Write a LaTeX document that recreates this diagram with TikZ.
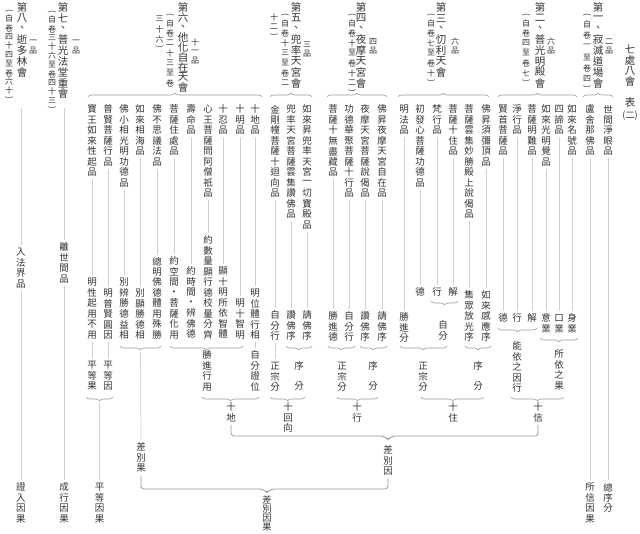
\documentclass[tikz,border=0pt]{standalone}
\usepackage{fontspec}
\usepackage{graphicx}
\newfontfamily\cjk{Noto Sans CJK TC}
\usetikzlibrary{decorations.pathreplacing,calc}
\definecolor{txt}{HTML}{333333}
\definecolor{lin}{HTML}{CFCFCF}
\definecolor{brc}{HTML}{9A9A9A}
\makeatletter
\newdimen\vpitch \vpitch=10.5pt
\newcommand\setpitch[1]{\vpitch#1\relax}
\newcommand\lp{\rotatebox[origin=c]{-90}{(}}
\newcommand\rp{\rotatebox[origin=c]{-90}{)}}
\def\lptok{\lp}\def\rptok{\rp}
\newcommand\vt[1]{\vbox{\offinterlineskip\@tfor\vch:=#1\do{%
 \ifx\vch\lptok\vbox to .6\vpitch{\vss\hbox to 1.1em{\hss\vch\hss}\vss}%
 \else\ifx\vch\rptok\vbox to .6\vpitch{\vss\hbox to 1.1em{\hss\vch\hss}\vss}%
 \else\vbox to \vpitch{\vss\hbox to 1.1em{\hss\vch\hss}\vss}\fi\fi}}}
\makeatother
\tikzset{
 base/.style={inner sep=0pt, outer sep=0pt, text=txt, anchor=north},
 item/.style={base, font=\fontsize{9.5}{10}\selectfont\cjk\setpitch{10.5pt}},
 head/.style={base, font=\fontsize{10.5}{11}\selectfont\cjk\setpitch{10.8pt}},
 note/.style={base, font=\fontsize{8}{9}\selectfont\cjk\setpitch{10pt}},
 notet/.style={base, font=\fontsize{8}{9}\selectfont\cjk\setpitch{9pt}},
 notew/.style={base, font=\fontsize{8}{9}\selectfont\cjk\setpitch{11pt}},
 pin/.style={base, font=\fontsize{8}{9}\selectfont\cjk\setpitch{9.2pt}},
 xufen/.style={base, font=\fontsize{9.5}{10}\selectfont\cjk\setpitch{10pt}},
 bottomtxt/.style={base, font=\fontsize{9.2}{10}\selectfont\cjk\setpitch{9.3pt}},
 conn/.style={draw=lin, line width=0.7pt, shorten <=2pt, shorten >=2pt},
 br/.style={draw=brc, line width=0.6pt, decorate, decoration={brace, amplitude=4pt}},
 bigbr/.style={draw=brc, line width=0.8pt, rounded corners=3pt},
}
\begin{document}
\begin{tikzpicture}[x=1pt,y=1pt]
\useasboundingbox (0,0) rectangle (640,-534);
\fill[white] (0,0) rectangle (640,-534);
% title
\node[head] (title) at (630,-44) {\vt{七處八會}};
\node[head] (biao) at (630,-97) {\vt{表}};
\node[base, font=\fontsize{9}{10}\selectfont\cjk] (er) at (630,-111) {(二)};
% ---------- 1
\node[head] (h1) at (598,-2) {\vt{第一、寂滅道場會}};
\node[pin] (p1) at (609,-37) {\vt{二品}};
\node[notew] (n1) at (587,-12) {\vt{\lp 自卷一至卷四\rp}};
\draw[br] (583,-97) -- (613,-97);
\node[item] (a1) at (608,-104) {\vt{世間淨眼品}};
\node[item] (a2) at (590,-104) {\vt{盧舍那佛品}};
\node[item] (zxf) at (608,-482) {\vt{總序分}};
\node[item] (sxyg) at (590,-482) {\vt{所信因果}};
\draw[conn] (a1.south) -- (zxf.north);
\draw[conn] (a2.south) -- (sxyg.north);
% ---------- 2
\node[head] (h2) at (540,-2) {\vt{第二、普光明殿會}};
\node[pin] (p2) at (551,-37) {\vt{六品}};
\node[note] (n2) at (526,-12) {\vt{\lp 自卷四至卷七\rp}};
\draw[br] (498,-97) -- (577,-97);
\node[item] (b1) at (572,-104) {\vt{如來名號品}};
\node[item] (b2) at (559,-104) {\vt{四諦品}};
\node[item] (b3) at (546,-104) {\vt{如來光明覺品}};
\node[item] (b4) at (532,-104) {\vt{菩薩明難品}};
\node[item] (b5) at (517,-104) {\vt{淨行品}};
\node[item] (b6) at (503,-104) {\vt{賢首菩薩品}};
\node[item] (c1) at (572,-313) {\vt{身業}};
\node[item] (c2) at (559,-313) {\vt{口業}};
\node[item] (c3) at (546,-313) {\vt{意業}};
\node[item] (c4) at (532,-313) {\vt{解}};
\node[item] (c5) at (517,-313) {\vt{行}};
\node[item] (c6) at (503,-313) {\vt{德}};
\foreach \i in {1,...,6}{\draw[conn] (b\i.south) -- (c\i.north);}
\draw[br] (537,-328) -- (498,-328);
\node[item] (nyzyx) at (517,-341) {\vt{能依之因行}};
\draw[br] (578,-338) -- (540,-338);
\node[item] (syzg) at (559,-349) {\vt{所依之果}};
\draw[br] (564,-397) -- (511,-397);
\node[item] (shixin) at (538,-402) {\vt{十信}};
% ---------- 3
\node[head] (h3) at (441,-2) {\vt{第三、忉利天會}};
\node[pin] (p3) at (455,-37) {\vt{六品}};
\node[note] (n3) at (431,-12) {\vt{\lp 自卷七至卷十\rp}};
\draw[br] (398,-97) -- (489,-97);
\node[item] (d1) at (486,-104) {\vt{佛昇須彌頂品}};
\node[item] (d2) at (469,-104) {\vt{菩薩雲集妙勝殿上說偈品}};
\node[item] (d3) at (453,-104) {\vt{菩薩十住品}};
\node[item] (d4) at (437,-104) {\vt{梵行品}};
\node[item] (d5) at (420,-104) {\vt{初發心菩薩功德品}};
\node[item] (d6) at (404,-104) {\vt{明法品}};
\node[item] (e1) at (486,-290) {\vt{如來感應序}};
\node[item] (e2) at (469,-290) {\vt{集眾放光序}};
\node[item] (e3) at (453,-287) {\vt{解}};
\node[item] (e4) at (437,-287) {\vt{行}};
\node[item] (e5) at (420,-287) {\vt{德}};
\node[item] (e6) at (404,-312) {\vt{勝進分}};
\foreach \i in {1,...,6}{\draw[conn] (d\i.south) -- (e\i.north);}
\draw[br] (458,-301) -- (431,-301);
\node[item] (zf3) at (443,-320) {\vt{自分}};
\draw[br] (447,-346) -- (400,-346);
\node[item] (zzf3) at (423,-361) {\vt{正宗分}};
\draw[br] (491,-346) -- (465,-346);
\node[xufen] (xf3) at (478,-361) {\vt{序　分}};
\draw[br] (484,-397) -- (421,-397);
\node[item] (shizhu) at (453,-402) {\vt{十住}};
% ---------- 4
\node[head] (h4) at (361,-2) {\vt{第四、夜摩天宮會}};
\node[pin] (p4) at (373,-37) {\vt{四品}};
\node[note] (n4) at (352,-12) {\vt{\lp 自卷十至卷十二\rp}};
\draw[br] (327,-97) -- (387,-97);
\node[item] (f1) at (382,-104) {\vt{佛昇夜摩天宮自在品}};
\node[item] (f2) at (365,-104) {\vt{夜摩天宮菩薩說偈品}};
\node[item] (f3) at (349,-104) {\vt{功德華聚菩薩十行品}};
\node[item] (f4) at (333,-104) {\vt{菩薩十無盡藏品}};
\node[item] (g1) at (382,-311) {\vt{請佛序}};
\node[item] (g2) at (365,-311) {\vt{讚佛序}};
\node[item] (g3) at (349,-311) {\vt{自分行}};
\node[item] (g4) at (333,-311) {\vt{勝進德}};
\foreach \i in {1,...,4}{\draw[conn] (f\i.south) -- (g\i.north);}
\draw[br] (355,-346) -- (328,-346);
\node[item] (zzf4) at (342,-361) {\vt{正宗分}};
\draw[br] (387,-346) -- (360,-346);
\node[xufen] (xf4) at (373,-361) {\vt{序　分}};
\draw[br] (378,-397) -- (337,-397);
\node[item] (shixing) at (357,-402) {\vt{十行}};
% ---------- 5
\node[head] (h5) at (296,-2) {\vt{第五、兜率天宮會}};
\node[pin] (p5) at (307,-40) {\vt{三品}};
\node[note] (n5a) at (285,-12) {\vt{\lp 自卷十三至卷二}};
\node[note] (n5b) at (274,-12) {\vt{十二\rp}};
\draw[br] (270,-97) -- (312,-97);
\node[item] (k1) at (307,-104) {\vt{如來昇兜率天宮一切寶殿品}};
\node[item] (k2) at (291,-104) {\vt{兜率天宮菩薩雲集讚佛品}};
\node[item] (k3) at (275,-104) {\vt{金剛幢菩薩十迴向品}};
\node[item] (m1) at (307,-310) {\vt{請佛序}};
\node[item] (m2) at (291,-310) {\vt{讚佛序}};
\node[item] (m3) at (275,-310) {\vt{自分行}};
\foreach \i in {1,...,3}{\draw[conn] (k\i.south) -- (m\i.north);}
\draw[br] (312,-346) -- (286,-346);
\node[xufen] (xf5) at (299,-361) {\vt{序　分}};
\node[item] (zzf5) at (275,-361) {\vt{正宗分}};
\draw[conn] (m3.south) -- (zzf5.north);
\draw[br] (305,-397) -- (270,-397);
\node[item] (shihx) at (288,-402) {\vt{十回向}};
% ---------- 6
\node[head, font=\fontsize{10.5}{11}\selectfont\cjk\setpitch{9.9pt}] (h6) at (183,-3) {\vt{第六、他化自在天會}};
\node[pin] (p6) at (195,-38) {\vt{十一品}};
\node[note] (n6a) at (170,-12) {\vt{\lp 自卷二十三至卷}};
\node[note] (n6b) at (159.5,-14) {\vt{三十六\rp}};
\draw[br] (88,-97) -- (262,-97);
\node[item] (q1) at (255,-104) {\vt{十地品}};
\node[item] (q2) at (240,-104) {\vt{十明品}};
\node[item] (q3) at (223,-104) {\vt{十忍品}};
\node[item] (q4) at (208,-104) {\vt{心王菩薩問阿僧祇品}};
\node[item] (q5) at (191,-104) {\vt{壽命品}};
\node[item] (q6) at (174,-104) {\vt{菩薩住處品}};
\node[item] (q7) at (157,-104) {\vt{佛不思議法品}};
\node[item] (q8) at (140,-104) {\vt{如來相海品}};
\node[item] (q9) at (124,-104) {\vt{佛小相光明功德品}};
\node[item] (q10) at (108,-104) {\vt{普賢菩薩行品}};
\node[item] (q11) at (92,-104) {\vt{寶王如來性起品}};
\node[item] (r1) at (255,-288) {\vt{明位體行相}};
\node[item] (r2) at (240,-298) {\vt{明十智明}};
\node[item] (r3) at (223,-266) {\vt{顯十明所依智體}};
\node[item] (r4) at (208,-235) {\vt{約數量顯行德校量分齊}};
\node[item] (r5) at (191,-266) {\vt{約時間・辨佛德}};
\node[item] (r6) at (174,-256) {\vt{約空間・菩薩化用}};
\node[item] (r7) at (157,-256) {\vt{總明佛德體用殊勝}};
\node[item] (r8) at (140,-288) {\vt{別顯勝德相}};
\node[item] (r9) at (124,-277) {\vt{別辨勝德益相}};
\node[item] (r10) at (108,-288) {\vt{明普賢圓因}};
\node[item] (r11) at (92,-277) {\vt{明性起用不用}};
\foreach \i in {1,...,11}{\draw[conn] (q\i.south) -- (r\i.north);}
\draw[br] (243,-346) -- (170,-346);
\node[item] (sjxy) at (207,-350) {\vt{勝進行用}};
\node[item] (zfzw) at (255,-350) {\vt{自分證位}};
\draw[conn] (r1.south) -- (zfzw.north);
\draw[br] (259,-397) -- (202,-397);
\node[item] (shidi) at (231,-402) {\vt{十地}};
\draw[br] (161,-346) -- (120,-346);
\coordinate (tcg) at (140.5,-350);
\node[item] (chaguo) at (141,-442) {\vt{差別果}};
\draw[conn] (tcg) -- (chaguo.north);
\node[item] (pdy) at (108,-360) {\vt{平等因}};
\node[item] (pdg) at (92,-360) {\vt{平等果}};
\draw[conn] (r10.south) -- (pdy.north);
\draw[conn] (r11.south) -- (pdg.north);
\draw[br] (113,-397) -- (86,-397);
\coordinate (tpd) at (99.5,-401);
\node[item] (pdyg) at (99.5,-482) {\vt{平等因果}};
\draw[conn] (tpd) -- (pdyg.north);
% ---------- 7
\node[head] (h7) at (63,-2) {\vt{第七、普光法堂重會}};
\node[pin] (p7) at (76,-37) {\vt{一品}};
\node[notet] (n7) at (52,-10) {\vt{\lp 自卷三十六至卷四十三\rp}};
\coordinate (top7) at (64,-106);
\node[item] (lsj) at (64,-242) {\vt{離世間品}};
\node[item] (cxyg) at (64,-482) {\vt{成行因果}};
\draw[conn] (top7) -- (lsj.north);
\draw[conn] (lsj.south) -- (cxyg.north);
% ---------- 8
\node[head] (h8) at (22,-2) {\vt{第八、逝多林會}};
\node[pin] (p8) at (33,-37) {\vt{一品}};
\node[notet] (n8) at (9,-9) {\vt{\lp 自卷四十四至卷六十\rp}};
\coordinate (top8) at (21,-106);
\node[item] (rfj) at (21,-247) {\vt{入法界品}};
\node[item] (zryg) at (21,-482) {\vt{證入因果}};
\draw[conn] (top8) -- (rfj.north);
\draw[conn] (rfj.south) -- (zryg.north);
% ---------- big braces
\coordinate (tipU) at (388,-440);
\draw[bigbr] ([yshift=-2pt]shidi.south) |- ($(tipU)+(-4,4)$) -- (tipU) -- ($(tipU)+(4,4)$) -| ([yshift=-2pt]shixin.south);
\node[item] (chayin) at (388,-445) {\vt{差別因}};
\coordinate (tipL) at (267,-493);
\draw[bigbr] ([yshift=-2pt]chaguo.south) |- ($(tipL)+(-4,4)$) -- (tipL) -- ($(tipL)+(4,4)$) -| ([yshift=-2pt]chayin.south);
\node[bottomtxt] (chayg) at (267,-495) {\vt{差別因果}};
\end{tikzpicture}
\end{document}
